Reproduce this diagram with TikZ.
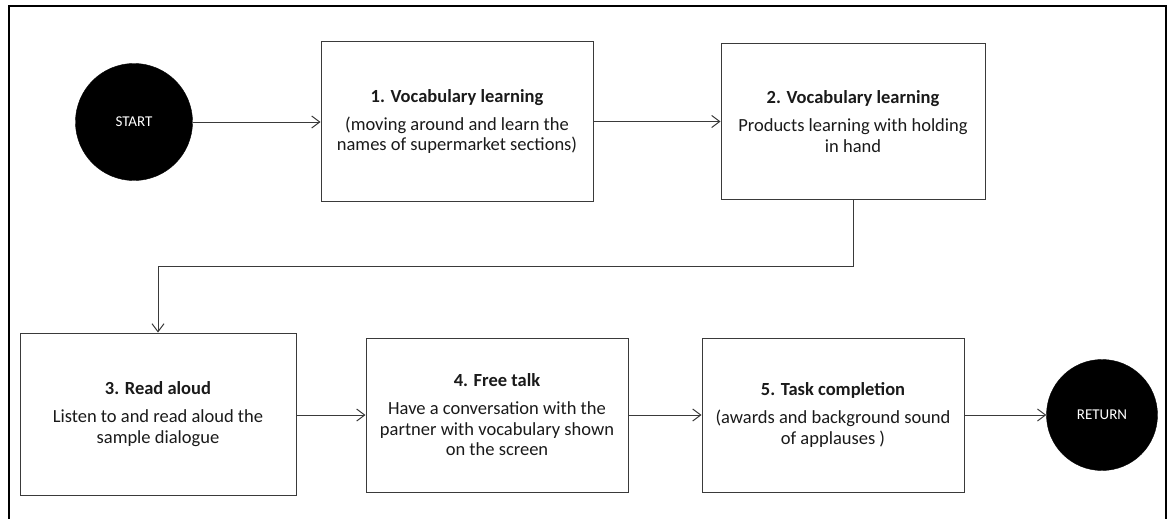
\documentclass[tikz,border=0pt]{standalone}
\usepackage{fontspec}
\setmainfont{Carlito}
\usetikzlibrary{arrows.meta}
\definecolor{edgegray}{HTML}{3A3A3A}
\definecolor{txt}{HTML}{1A1A1A}
\begin{document}
\begin{tikzpicture}[x=1pt,y=-1pt,
  stepbox/.style={draw=edgegray, line width=1pt, fill=white, inner sep=0pt,
    align=center, text=txt,
    font=\fontsize{18.5}{20.7}\selectfont},
  terminal/.style={circle, fill=black, draw=black, inner sep=0pt,
    text=white, font=\fontsize{15}{17}\selectfont},
  flow/.style={draw=edgegray, line width=1pt,
    -{Straight Barb[length=8pt,width=12pt,line width=1pt]}}]
  \useasboundingbox (0,0) rectangle (1170,519);
  % outer frame, open at the bottom edge
  \draw[line width=2pt, black] (9,525) -- (9,6) -- (1166,6) -- (1166,525);

  % top row
  \node[terminal, minimum size=117pt] (start) at (134,122) {START};
  \node[stepbox, minimum width=272pt, minimum height=159pt] (b1) at (457,121.5)
    {\textbf{1. Vocabulary learning}\\[7pt](moving around and learn the\\names of supermarket sections)};
  \node[stepbox, minimum width=264pt, minimum height=155pt] (b2) at (853,121.5)
    {\textbf{2. Vocabulary learning}\\[7pt]Products learning with holding\\in hand};

  % bottom row
  \node[stepbox, minimum width=276pt, minimum height=162pt] (b3) at (158,414)
    {\textbf{3. Read aloud}\\[7pt]Listen to and read aloud the\\sample dialogue};
  \node[stepbox, minimum width=262pt, minimum height=154pt] (b4) at (497,415)
    {\textbf{4. Free talk}\\[7pt]Have a conversation with the\\partner with vocabulary shown\\on the screen};
  \node[stepbox, minimum width=262pt, minimum height=154pt] (b5) at (833,415)
    {\textbf{5. Task completion}\\[7pt](awards and background sound\\of applauses )};
  \node[terminal, minimum size=111pt] (ret) at (1102,415) {RETURN};

  % connectors
  \draw[flow] (start.east) -- (start.east -| b1.west);
  \draw[flow] (b1.east) -- (b1.east -| b2.west);
  \draw[flow] (b2.south) -- ++(0,67) -| (b3.north);
  \draw[flow] (b3.east |- b4.west) -- (b4.west);
  \draw[flow] (b4.east) -- (b5.west);
  \draw[flow] (b5.east) -- (ret.west);
\end{tikzpicture}
\end{document}
